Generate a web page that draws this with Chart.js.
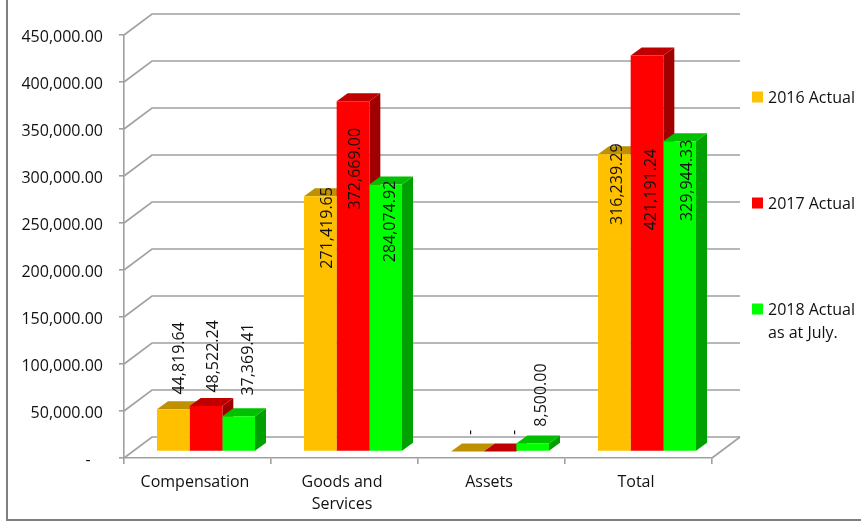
<!DOCTYPE html>
<html>
<head>
<meta charset="utf-8">
<title>Actual by category</title>
<script src="https://cdn.jsdelivr.net/npm/chart.js@4"></script>
<style>
  html, body { margin: 0; padding: 0; background: #fff; }
  #wrap { position: relative; width: 861px; height: 526px; overflow: hidden; }
  #frame { position: absolute; left: 6px; top: -4px; width: 870px; height: 523px;
           border-left: 2px solid #7f7f7f; border-bottom: 2px solid #7f7f7f; }
  canvas { position: absolute; left: 0; top: 0; }
</style>
</head>
<body>
<div id="wrap">
  <div id="frame"></div>
  <canvas id="barChart" width="861" height="526"></canvas>
</div>
<script>
const categories = ['Compensation', ['Goods and', 'Services'], 'Assets', 'Total'];
const seriesNames = ['2016 Actual', '2017 Actual', ['2018 Actual', 'as at July.']];
const actual2016 = [44819.64, 271419.65, 0, 316239.29];
const actual2017 = [48522.24, 372669.00, 0, 421191.24];
const actual2018 = [37369.41, 284074.92, 8500.00, 329944.33];

const frontColors = ['#ffc000', '#ff0000', '#00ff00'];
const topColors = ['#bf9000', '#c00000', '#00c000'];
const sideColors = ['#a67c00', '#a00000', '#00a000'];
const gridColor = '#a0a0a0';
const textColor = '#111';
const fontName = '"Open Sans", sans-serif';

// how far the back wall and the bars sit behind the front of the floor
const wall = { dx: 28, dy: -21 };
const barShift = { dx: 8.5, dy: -6.5 };
const barDepth = { dx: 11, dy: -8 };

// the data labels were placed by hand in the original, offset from each bar top
const labelNudge = [
  [[5.7, -51], [6.7, 31.5], [2.7, -19], [2.7, 30]],
  [[7, -49.5], [2, 67.5], [14, -19], [4, 134]],
  [[9.3, -57], [4.3, 37], [8.3, -48.5], [7.3, 39]]
];
const legendRows = [98, 204, 310];

function money(v) {
  return v.toLocaleString('en-US', { minimumFractionDigits: 2, maximumFractionDigits: 2 });
}

function line(ctx, points) {
  ctx.beginPath();
  points.forEach((p, i) => i ? ctx.lineTo(p[0], p[1]) : ctx.moveTo(p[0], p[1]));
  ctx.stroke();
}

function poly(ctx, points, color) {
  ctx.beginPath();
  points.forEach((p, i) => i ? ctx.lineTo(p[0], p[1]) : ctx.moveTo(p[0], p[1]));
  ctx.closePath();
  ctx.fillStyle = color;
  ctx.fill();
}

const wallPlugin = {
  id: 'wall',
  beforeDatasetsDraw(chart) {
    const ctx = chart.ctx;
    const area = chart.chartArea;
    ctx.save();
    ctx.strokeStyle = gridColor;
    ctx.lineWidth = 1.6;
    chart.scales.y.ticks.forEach(t => {
      const y = chart.scales.y.getPixelForValue(t.value);
      line(ctx, [[area.left, y], [area.left + wall.dx, y + wall.dy], [area.right + wall.dx, y + wall.dy]]);
    });
    line(ctx, [[area.right, area.bottom], [area.right + wall.dx, area.bottom + wall.dy]]);
    ctx.restore();
  }
};

const depthPlugin = {
  id: 'depth',
  beforeDatasetsDraw(chart) {
    const ctx = chart.ctx;
    ctx.save();
    ctx.translate(barShift.dx, barShift.dy);
    chart.data.datasets.forEach((ds, i) => {
      chart.getDatasetMeta(i).data.forEach(bar => {
        const l = bar.x - bar.width / 2;
        const r = bar.x + bar.width / 2;
        poly(ctx, [[r, bar.y], [r + barDepth.dx, bar.y + barDepth.dy],
          [r + barDepth.dx, bar.base + barDepth.dy], [r, bar.base]], sideColors[i]);
        poly(ctx, [[l, bar.y], [l + barDepth.dx, bar.y + barDepth.dy],
          [r + barDepth.dx, bar.y + barDepth.dy], [r, bar.y]], topColors[i]);
      });
    });
  },
  afterDatasetsDraw(chart) {
    const ctx = chart.ctx;
    ctx.font = '16px ' + fontName;
    ctx.fillStyle = textColor;
    ctx.textAlign = 'center';
    ctx.textBaseline = 'middle';
    chart.data.datasets.forEach((ds, i) => {
      chart.getDatasetMeta(i).data.forEach((bar, j) => {
        const nudge = labelNudge[i][j];
        ctx.save();
        ctx.translate(bar.x + nudge[0], bar.y + nudge[1]);
        ctx.rotate(-Math.PI / 2);
        ctx.fillText(ds.data[j] === 0 ? '-' : money(ds.data[j]), 0, 0);
        ctx.restore();
      });
    });
    ctx.restore();
  }
};

const sideLegend = {
  id: 'sideLegend',
  afterDraw(chart) {
    const ctx = chart.ctx;
    ctx.save();
    ctx.font = '16px ' + fontName;
    ctx.fillStyle = textColor;
    ctx.textAlign = 'left';
    ctx.textBaseline = 'middle';
    seriesNames.forEach((name, i) => {
      ctx.fillStyle = frontColors[i];
      ctx.fillRect(752, legendRows[i] - 6.5, 11, 11);
      ctx.fillStyle = textColor;
      [].concat(name).forEach((text, k) => ctx.fillText(text, 768, legendRows[i] + k * 23));
    });
    ctx.restore();
  }
};

new Chart(document.getElementById('barChart').getContext('2d'), {
  type: 'bar',
  data: {
    labels: categories,
    datasets: [actual2016, actual2017, actual2018].map((values, i) => ({
      label: [].concat(seriesNames[i]).join(' '),
      data: values,
      backgroundColor: frontColors[i],
      barPercentage: 1,
      categoryPercentage: 0.667
    }))
  },
  options: {
    responsive: false,
    animation: false,
    layout: { padding: { top: 35, right: 149, left: 0, bottom: 0 } },
    plugins: { legend: { display: false }, tooltip: { enabled: false } },
    scales: {
      x: {
        afterFit(scale) { scale.height = 68; },
        grid: { drawOnChartArea: false, color: gridColor, lineWidth: 1.6, tickLength: 6 },
        border: { color: gridColor, width: 1.6 },
        ticks: {
          color: textColor,
          font: { family: fontName, size: 16, lineHeight: 1.35 },
          padding: 8,
          labelOffset: -2.5,
          maxRotation: 0
        }
      },
      y: {
        min: 0,
        max: 450000,
        afterFit(scale) { scale.width = 124; },
        grid: { drawOnChartArea: false, color: gridColor, lineWidth: 1.6, tickLength: 5 },
        border: { color: gridColor, width: 1.6 },
        ticks: {
          stepSize: 50000,
          color: textColor,
          font: { family: fontName, size: 16 },
          padding: 16,
          labelOffset: 2.5,
          callback: v => v === 0 ? '-\u00a0\u00a0\u00a0' : money(v)
        }
      }
    }
  },
  plugins: [wallPlugin, depthPlugin, sideLegend]
});
</script>
</body>
</html>
